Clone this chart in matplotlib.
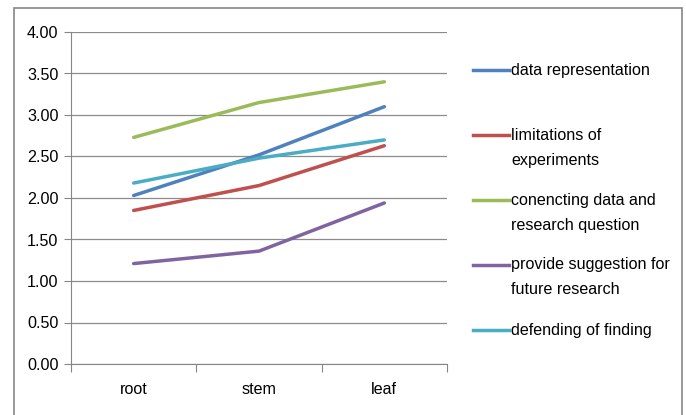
import matplotlib
matplotlib.use("Agg")
import matplotlib.pyplot as plt
from matplotlib.lines import Line2D
from matplotlib.patches import Rectangle

categories = ['root', 'stem', 'leaf']
data_representation = [2.03, 2.52, 3.10]
limitations = [1.85, 2.15, 2.63]
connecting = [2.73, 3.15, 3.40]
suggestion = [1.21, 1.36, 1.94]
defending = [2.18, 2.48, 2.70]
labels = ['data representation', 'limitations of\nexperiments',
          'conencting data and\nresearch question',
          'provide suggestion for\nfuture research', 'defending of finding']
series = [data_representation, limitations, connecting, suggestion, defending]
colors = ['#4F81BD', '#C0504D', '#9BBB59', '#8064A2', '#4BACC6']
yticks = [0.0, 0.5, 1.0, 1.5, 2.0, 2.5, 3.0, 3.5, 4.0]

plt.rcParams['font.family'] = ['Liberation Sans Narrow', 'Liberation Sans', 'DejaVu Sans']
fs = 11.6

W, H = 686, 415
fig = plt.figure(figsize=(W / 100, H / 100), dpi=100)

# axes box in pixels: x 71..447, y 32..364
ax = fig.add_axes([71 / W, 1 - 364 / H, (447 - 71) / W, (364 - 32) / H])

x = range(len(categories))
for vals, c in zip(series, colors):
    ax.plot(x, vals, color=c, lw=2.5, solid_capstyle='round')

ax.set_xlim(-0.5, 2.5)
ax.set_ylim(0, 4)
ax.set_yticks(yticks)
ax.set_yticklabels(['%.2f' % v for v in yticks], fontsize=fs)
ax.set_xticks([-0.5, 0.5, 1.5, 2.5])
ax.set_xticklabels([])
ax.set_xticks(list(x), minor=True)
ax.set_xticklabels(categories, minor=True, fontsize=fs)
ax.tick_params(axis='x', which='minor', length=0, pad=13)
ax.tick_params(axis='x', which='major', length=6, color='#868686', direction='out')
ax.tick_params(axis='y', length=5, color='#868686', pad=4)
ax.grid(axis='y', color='#8c8c8c', lw=0.9)
ax.set_axisbelow(True)
for s in ['top', 'right']:
    ax.spines[s].set_visible(False)
ax.spines['left'].set_color('#868686')
ax.spines['bottom'].set_color('#868686')

# legend drawn by hand
y0 = 70
for i, (lab, c) in enumerate(zip(labels, colors)):
    yy = 1 - (y0 + 65 * i) / H
    fig.add_artist(Line2D([473 / W, 509 / W], [yy, yy], color=c, lw=2.5))
    lines = lab.split('\n')
    for j, t in enumerate(lines):
        fig.text(511 / W, yy - j * 25 / H, t, fontsize=fs, va='center', ha='left')

# chart border
fig.add_artist(Rectangle((14 / W, -0.05), (682 - 14) / W, 1.05 - 8 / H,
                         transform=fig.transFigure, fill=False,
                         edgecolor='#868686', lw=1.2))

fig.savefig('out.png', dpi=100)
